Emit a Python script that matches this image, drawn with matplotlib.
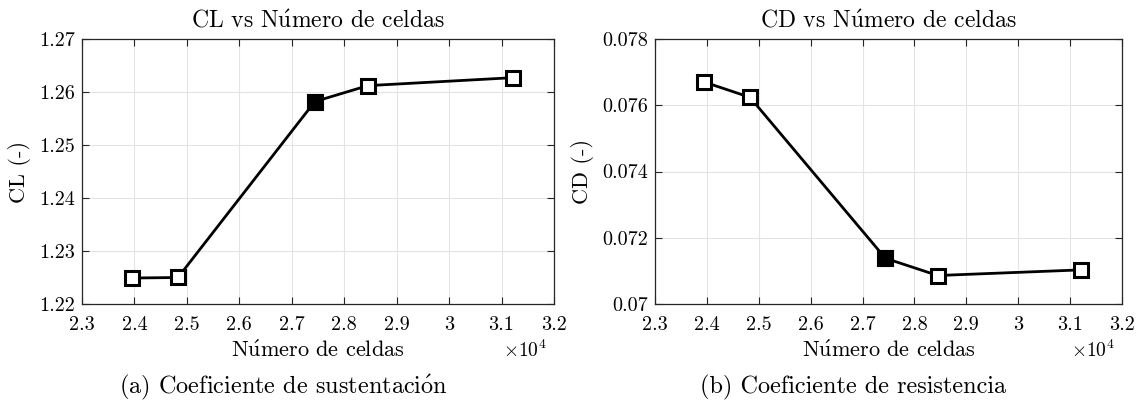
"""CL and CD vs number of cells, mesh independence study."""
import matplotlib
matplotlib.use("Agg")
import matplotlib.pyplot as plt
from matplotlib.ticker import FuncFormatter

plt.rcParams['font.family'] = ['cmr10', 'DejaVu Serif']
plt.rcParams['mathtext.fontset'] = 'cm'
plt.rcParams['axes.formatter.use_mathtext'] = True

# data
n_celdas = [23950, 24830, 27440, 28450, 31210]
cl = [1.2249, 1.2250, 1.2582, 1.2612, 1.2627]
cd = [0.07670, 0.07624, 0.07138, 0.07086, 0.07103]
selected = 2  # mesh chosen (filled marker)

x_ticks = [23000, 24000, 25000, 26000, 27000, 28000, 29000, 30000, 31000, 32000]
cl_ticks = [1.22, 1.23, 1.24, 1.25, 1.26, 1.27]
cd_ticks = [0.070, 0.072, 0.074, 0.076, 0.078]

# cmr10 has no accented letters, so build them with mathtext accents
NUMERO = r'N$\acute{\mathrm{u}}$mero de celdas'
EDGE = '#262626'

fig = plt.figure(figsize=(11.42, 4.07), dpi=100)
ax1 = fig.add_axes([82 / 1142, 103 / 407, 472 / 1142, 265 / 407])
ax2 = fig.add_axes([655 / 1142, 103 / 407, 467 / 1142, 265 / 407])


def style_axis(ax, y, yticks, title, ylabel):
    ax.plot(n_celdas, y, '-', color='k', linewidth=2.0, zorder=3)
    ax.plot(n_celdas, y, 's', color='k', markerfacecolor='white',
            markeredgewidth=2.2, markersize=9.5, linestyle='none', zorder=4)
    ax.plot(n_celdas[selected], y[selected], 's', color='k',
            markerfacecolor='k', markeredgewidth=2.2, markersize=9.5, zorder=5)
    ax.set_xlim(x_ticks[0], x_ticks[-1])
    ax.set_ylim(yticks[0], yticks[-1])
    ax.set_xticks(x_ticks)
    ax.set_yticks(yticks)
    ax.xaxis.set_major_formatter(FuncFormatter(lambda v, p: '%g' % (v / 1e4)))
    ax.yaxis.set_major_formatter(FuncFormatter(lambda v, p: '%g' % round(v, 4)))
    ax.tick_params(direction='in', top=True, right=True, length=5,
                   width=0.8, color=EDGE, labelsize=14.5)
    ax.tick_params(axis='x', pad=9)
    ax.tick_params(axis='y', pad=5)
    ax.grid(True, color='#e3e3e3', linewidth=0.8)
    ax.set_axisbelow(True)
    for s in ax.spines.values():
        s.set_color(EDGE)
        s.set_linewidth(0.9)
    ax.set_title(title, fontsize=17, pad=8)
    ax.set_ylabel(ylabel, fontsize=16, labelpad=6)
    ax.set_xlabel(NUMERO, fontsize=16, labelpad=4)
    ax.text(0.985, -0.174, r'$\times10^{4}$', transform=ax.transAxes,
            ha='right', va='center', fontsize=14)


style_axis(ax1, cl, cl_ticks, 'CL vs ' + NUMERO, 'CL (-)')
style_axis(ax2, cd, cd_ticks, 'CD vs ' + NUMERO, 'CD (-)')

fig.text(283 / 1142, 20 / 407, r'(a) Coeficiente de sustentaci$\acute{\mathrm{o}}$n',
         ha='center', va='center', fontsize=17.5)
fig.text(853 / 1142, 20 / 407, '(b) Coeficiente de resistencia',
         ha='center', va='center', fontsize=17.5)

fig.savefig('out.png', dpi=100)
